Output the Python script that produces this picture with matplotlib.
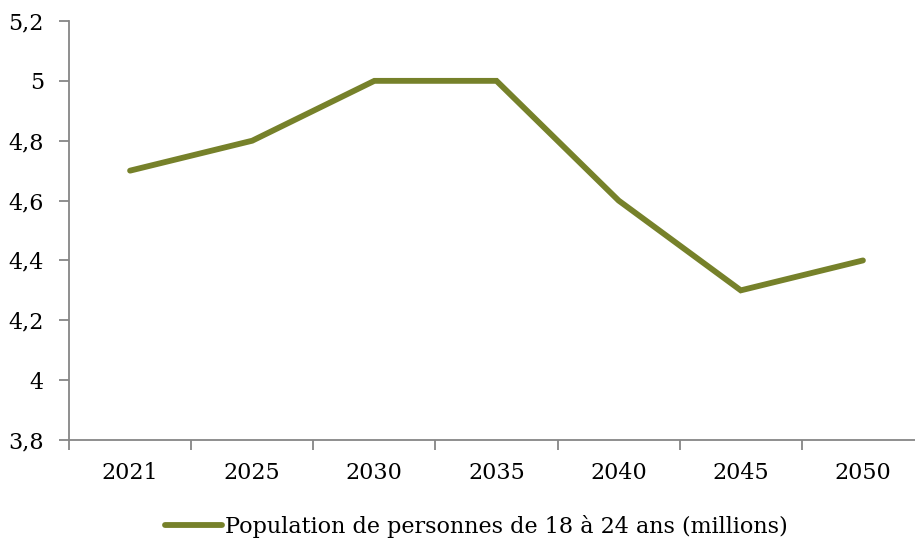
import matplotlib.pyplot as plt
from matplotlib.ticker import FuncFormatter, FixedLocator

years = ["2021", "2025", "2030", "2035", "2040", "2045", "2050"]
population = [4.7, 4.8, 5.0, 5.0, 4.6, 4.3, 4.4]
yticks = [3.8, 4.0, 4.2, 4.4, 4.6, 4.8, 5.0, 5.2]
label = "Population de personnes de 18 à 24 ans (millions)"

plt.rcParams["font.family"] = ["DejaVu Serif"]
W, H = 915, 545
fig = plt.figure(figsize=(W / 100, H / 100), dpi=100)
# axes box in pixels: left 69, right 924 (runs past the edge), top 21, bottom 440
ax = fig.add_axes([69 / W, (H - 440) / H, (924 - 69) / W, (440 - 21) / H])

x = list(range(len(years)))
ax.plot(x, population, color="#76812a", lw=4.2, solid_capstyle="round",
        solid_joinstyle="miter", label=label)

ax.set_xlim(-0.5, len(years) - 0.5)
ax.set_ylim(3.8, 5.2)
ax.set_yticks(yticks)
ax.yaxis.set_major_formatter(FuncFormatter(lambda v, p: f"{v:g}".replace(".", ",")))

# category ticks between bins, labels centred in bins
ax.xaxis.set_major_locator(FixedLocator([i - 0.5 for i in range(len(years) + 1)]))
ax.set_xticklabels([])
ax.set_xticks(x, minor=True)
ax.set_xticklabels(years, minor=True)
ax.tick_params(axis="x", which="minor", length=0, pad=16, labelsize=16)
ax.tick_params(axis="x", which="major", length=7, width=1.3, color="#868686",
               direction="out")
ax.tick_params(axis="y", length=7, width=1.3, color="#868686", direction="out",
               labelsize=16, pad=11)

for s in ["top", "right"]:
    ax.spines[s].set_visible(False)
for s in ["left", "bottom"]:
    ax.spines[s].set_color("#868686")
    ax.spines[s].set_linewidth(1.3)

fig.legend(loc="center", bbox_to_anchor=(476 / W, 1 - 526 / H), frameon=False,
           fontsize=16, handlelength=2.6, handletextpad=0.1)

fig.savefig("out.png", dpi=100)
